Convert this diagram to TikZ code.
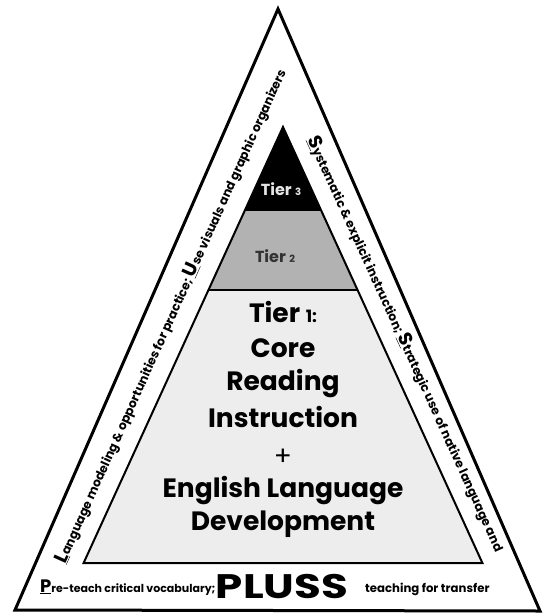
\documentclass[tikz,border=0pt]{standalone}
\usepackage{fontspec}
\setmainfont{Poppins}
\begin{document}
\begin{tikzpicture}[x=1pt,y=-1pt,
  tierone/.style={font=\fontsize{26.5}{26.5}\selectfont\bfseries, inner sep=0pt, anchor=base},
  sidetxt/.style={inner sep=0pt, anchor=center},
]
\useasboundingbox (0,0) rectangle (542,615);
% outer triangle
\coordinate (OA) at (278,9);
\coordinate (OL) at (15,610);
\coordinate (OR) at (540,611);
\draw[line width=3pt, line join=miter] (OA) -- (OR) -- (OL) -- cycle;
% inner pyramid
\coordinate (IA) at (283,127);
\coordinate (T3L) at (245.1,210);
\coordinate (T3R) at (320.9,210);
\coordinate (T2L) at (208.6,290);
\coordinate (T2R) at (357.4,290);
\coordinate (BL) at (83.6,563);
\coordinate (BR) at (482.4,563);
\fill[black!7] (T2L) -- (T2R) -- (BR) -- (BL) -- cycle;
\fill[black!30] (T3L) -- (T3R) -- (T2R) -- (T2L) -- cycle;
\fill[black] (IA) -- (T3R) -- (T3L) -- cycle;
\draw[line width=2pt, line join=miter] (IA) -- (BR) -- (BL) -- cycle;
\draw[line width=1.5pt] (T3L) -- (T3R);
\draw[line width=1.5pt] (T2L) -- (T2R);
% tier labels
\node[font=\fontsize{16}{16}\selectfont\bfseries, text=white!90!black, inner sep=0pt, anchor=base] (tier3) at (281,195) {Tier {\fontsize{10}{10}\selectfont 3}};
\node[font=\fontsize{16}{16}\selectfont\bfseries, text=black!80, inner sep=0pt, anchor=base] (tier2) at (275,262) {Tier {\fontsize{10}{10}\selectfont 2}};
\node[tierone] (t1a) at (283,322) {Tier {\fontsize{17}{17}\selectfont 1:}};
\node[tierone] (t1b) at (283,357) {Core};
\node[tierone] (t1c) at (283,390) {Reading};
\node[tierone] (t1d) at (283,427) {Instruction};
\node[tierone, font=\fontsize{26.5}{26.5}\selectfont\mdseries] (t1e) at (283,465) {+};
\node[tierone] (t1f) at (283,497) {English Language};
\node[tierone] (t1g) at (283,530) {Development};
% bottom line
\node[font=\fontsize{11}{11}\selectfont\bfseries, inner sep=0pt, anchor=base west] (pre) at (40,592) {\underline{\fontsize{18}{18}\selectfont P}re-teach critical vocabulary;};
\node[font=\fontsize{34}{34}\selectfont\bfseries, inner sep=0pt, anchor=base] (pluss) at (282,598) {\scalebox{1.28}[1]{PLUSS}};
\node[font=\fontsize{11.7}{11.7}\selectfont\bfseries, inner sep=0pt, anchor=base west] (transfer) at (365,592) {teaching for transfer};
% side texts
\node[sidetxt, rotate=65.8, font=\fontsize{12.3}{12.3}\selectfont\bfseries] (lefttxt) at (171,316) {\underline{\fontsize{19}{19}\selectfont L}anguage modeling \& opportunities for practice; \underline{\fontsize{19}{19}\selectfont U}se visuals and graphic organizers};
\node[sidetxt, rotate=-65.5, font=\fontsize{12.3}{12.3}\selectfont\bfseries] (righttxt) at (406,344) {\underline{\fontsize{19}{19}\selectfont S}ystematic \& explicit instruction; \underline{\fontsize{19}{19}\selectfont S}trategic use of native language and};
\end{tikzpicture}
\end{document}
